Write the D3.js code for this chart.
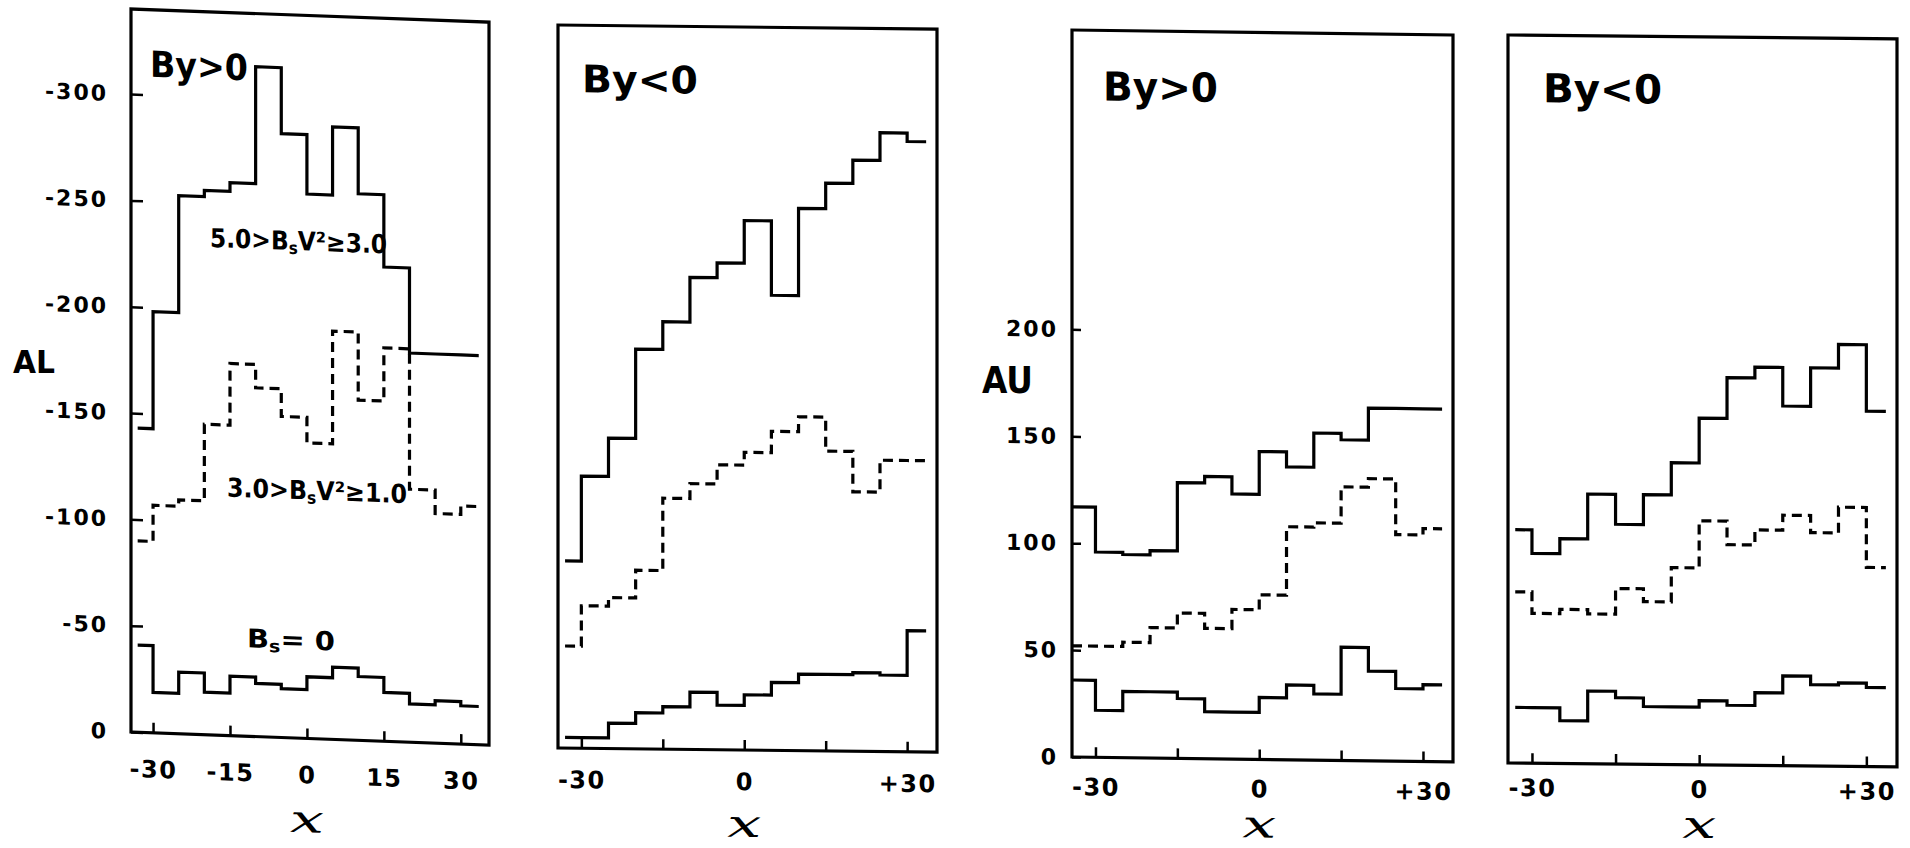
<!DOCTYPE html>
<html><head><meta charset="utf-8">
<script src="https://cdn.jsdelivr.net/npm/d3@7"></script>
<style>html,body{margin:0;padding:0;background:#fff;}svg{display:block}</style>
</head><body>
<svg id="chart" width="1910" height="848"></svg>
<script>
// ---------- DATA ----------
const binEdges   = [-33,-30,-25,-20,-15,-10,-5,0,5,10,15,20,25,30,33.5];
const binEdgesP3 = [-34.3,-30,-25,-20,-15,-10,-5,0,5,10,15,20,25,30,33.5];
const xDomain = [-34.3, 35.5];
const xTicks = [-30,-15,0,15,30];
const xTickLabelsFirst = ["-30","-15","0","15","30"];
const xTickLabelsOther = ["-30","","0","","+30"];
const alTicks = [0,-50,-100,-150,-200,-250,-300];
const auTicks = [0,50,100,150,200];
const alDomain = [0,-340];
const auDomain = [0,340];

// AL, By > 0
const alPosStrong   = [-143,-198,-253,-256,-260,-315,-284,-256,-288,-257,-223,-183,-183,-183];
const alPosModerate = [-90,-107,-110,-146,-175,-164,-151,-139,-192,-160,-185,-119,-108,-112];
const alPosZero     = [-41,-19,-29,-20,-28,-25,-23,-29,-34,-30,-23,-18,-20,-18];
// AL, By < 0
const alNegStrong   = [-88,-128,-146,-188,-201,-222,-229,-249,-214,-255,-267,-278,-291,-287];
const alNegModerate = [-48,-67,-71,-84,-118,-125,-134,-140,-150,-157,-141,-122,-137,-137];
const alNegZero     = [-5,-5,-12,-17,-20,-27,-21,-26,-32,-36,-36,-37,-36,-57];
// AU, By > 0
const auPosStrong   = [117,96,95,97,129,132,124,144,137,153,150,165,165,165];
const auPosModerate = [52,52,54,61,68,61,70,77,109,111,128,132,106,109];
const auPosZero     = [36,22,31,31,28,22,22,29,35,31,53,42,34,36];
// AU, By < 0
const auNegStrong   = [109,98,105,126,112,126,141,162,181,186,168,186,197,166];
const auNegModerate = [80,70,72,70,82,76,92,114,103,110,117,109,121,93];
const auNegZero     = [26,26,20,34,31,27,27,30,28,34,42,38,39,37];

const panelTitles = ["By>0","By<0","By>0","By<0"];

// ---------- LAYOUT ----------
const svg = d3.select("#chart");
const FONT = "DejaVu Sans";
const panels = [
  {left:131, bottom:732, w:358, h:723, skew:2.1,  yDomain:alDomain, edges:binEdges,
   series:[alPosStrong, alPosModerate, alPosZero], yTicks:alTicks, yTickLen:12, yPad:23,
   xLabels:xTickLabelsFirst, xLabelY:45, xTitleY:94, title:panelTitles[0], titleX:19, titleY:-656, titleW:98, titleSize:36},
  {left:558, bottom:748, w:379, h:723, skew:0.63, yDomain:alDomain, edges:binEdges,
   series:[alNegStrong, alNegModerate, alNegZero], yTicks:null,
   xLabels:xTickLabelsOther, xLabelY:40, xTitleY:87, title:panelTitles[1], titleX:24, titleY:-656, titleW:116, titleSize:38},
  {left:1072, bottom:757, w:381, h:727, skew:0.75, yDomain:auDomain, edges:binEdgesP3,
   series:[auPosStrong, auPosModerate, auPosZero], yTicks:auTicks, yTickLen:9, yPad:14,
   xLabels:xTickLabelsOther, xLabelY:38, xTitleY:78, title:panelTitles[2], titleX:31, titleY:-657, titleW:115, titleSize:40},
  {left:1508, bottom:763, w:389, h:728, skew:0.57, yDomain:auDomain, edges:binEdges,
   series:[auNegStrong, auNegModerate, auNegZero], yTicks:null,
   xLabels:xTickLabelsOther, xLabelY:33, xTitleY:73, title:panelTitles[3], titleX:35, titleY:-661, titleW:119, titleSize:40}
];
const seriesDash = [null, "10,6", null];

panels.forEach((p, pi) => {
  const g = svg.append("g").attr("transform", `translate(${p.left},${p.bottom}) skewY(${p.skew})`);
  const x = d3.scaleLinear().domain(xDomain).range([0, p.w]);
  const y = d3.scaleLinear().domain(p.yDomain).range([0, -p.h]);

  // x axis (ticks inward)
  const xa = g.append("g").call(d3.axisBottom(x).tickValues(xTicks).tickSize(-10)
      .tickFormat((d,i) => p.xLabels[i]));
  xa.select(".domain").remove();
  xa.selectAll(".tick line").attr("stroke","#000").attr("stroke-width",2.5);
  xa.selectAll(".tick text").attr("fill","#000").attr("font-family",FONT)
    .attr("font-size",24).attr("font-weight","bold").attr("letter-spacing",1.5)
    .attr("y",p.xLabelY).attr("dy",0);

  // y axis
  if (p.yTicks) {
    const ya = g.append("g").call(d3.axisLeft(y).tickValues(p.yTicks).tickSize(-p.yTickLen)
        .tickPadding(p.yPad).tickFormat(d => String(d)));
    ya.select(".domain").remove();
    ya.selectAll(".tick line").attr("stroke","#000").attr("stroke-width",2.5);
    ya.selectAll(".tick text").attr("fill","#000").attr("font-family",FONT)
      .attr("font-size",22).attr("font-weight","bold").attr("letter-spacing",2);
  }

  // frame
  g.append("rect").attr("x",0).attr("y",-p.h).attr("width",p.w).attr("height",p.h)
    .attr("fill","none").attr("stroke","#000").attr("stroke-width",3.2);

  // histograms
  const line = d3.line().x(d => x(d[0])).y(d => y(d[1])).curve(d3.curveStepAfter);
  p.series.forEach((vals, si) => {
    const pts = vals.map((v,i) => [p.edges[i], v]);
    pts.push([p.edges[vals.length], vals[vals.length-1]]);
    g.append("path").attr("d", line(pts)).attr("fill","none").attr("stroke","#000")
      .attr("stroke-width",3.2).attr("stroke-dasharray", seriesDash[si]);
  });

  // panel title
  g.append("text").attr("x",p.titleX).attr("y",p.titleY).attr("font-family",FONT)
    .attr("font-size",p.titleSize).attr("font-weight","bold").attr("fill","#000")
    .attr("textLength",p.titleW).attr("lengthAdjust","spacingAndGlyphs").text(p.title);

  // x title
  g.append("text").attr("x", x(0) - 17).attr("y", p.xTitleY)
    .attr("font-family","DejaVu Serif").attr("font-style","italic").attr("font-size",38)
    .attr("fill","#000").attr("textLength",34).attr("lengthAdjust","spacingAndGlyphs").text("x");

  // series annotations for first panel
  if (pi === 0) {
    const ann = [
      {x:79,  y:-488, w:177, parts:["5.0>B","s","V²≥3.0"]},
      {x:96,  y:-239, w:180, parts:["3.0>B","s","V²≥1.0"]},
      {x:116, y:-89,  w:88,  parts:["B","s","= 0"]}
    ];
    ann.forEach(a => {
      const tx = g.append("text").attr("x",a.x).attr("y",a.y).attr("font-family",FONT)
        .attr("font-size",26).attr("font-weight","bold").attr("fill","#000")
        .attr("textLength",a.w).attr("lengthAdjust","spacingAndGlyphs");
      tx.append("tspan").text(a.parts[0]);
      tx.append("tspan").attr("font-size",17).attr("dy",4).text(a.parts[1]);
      tx.append("tspan").attr("dy",-4).text(a.parts[2]);
    });
  }
});

// y axis titles
svg.append("text").attr("x",13).attr("y",373).attr("font-family",FONT).attr("font-size",32)
  .attr("font-weight","bold").attr("fill","#000").attr("textLength",42).attr("lengthAdjust","spacingAndGlyphs").text("AL");
svg.append("text").attr("x",982).attr("y",393).attr("font-family",FONT).attr("font-size",37)
  .attr("font-weight","bold").attr("fill","#000").attr("textLength",51).attr("lengthAdjust","spacingAndGlyphs").text("AU");
</script>
</body></html>
